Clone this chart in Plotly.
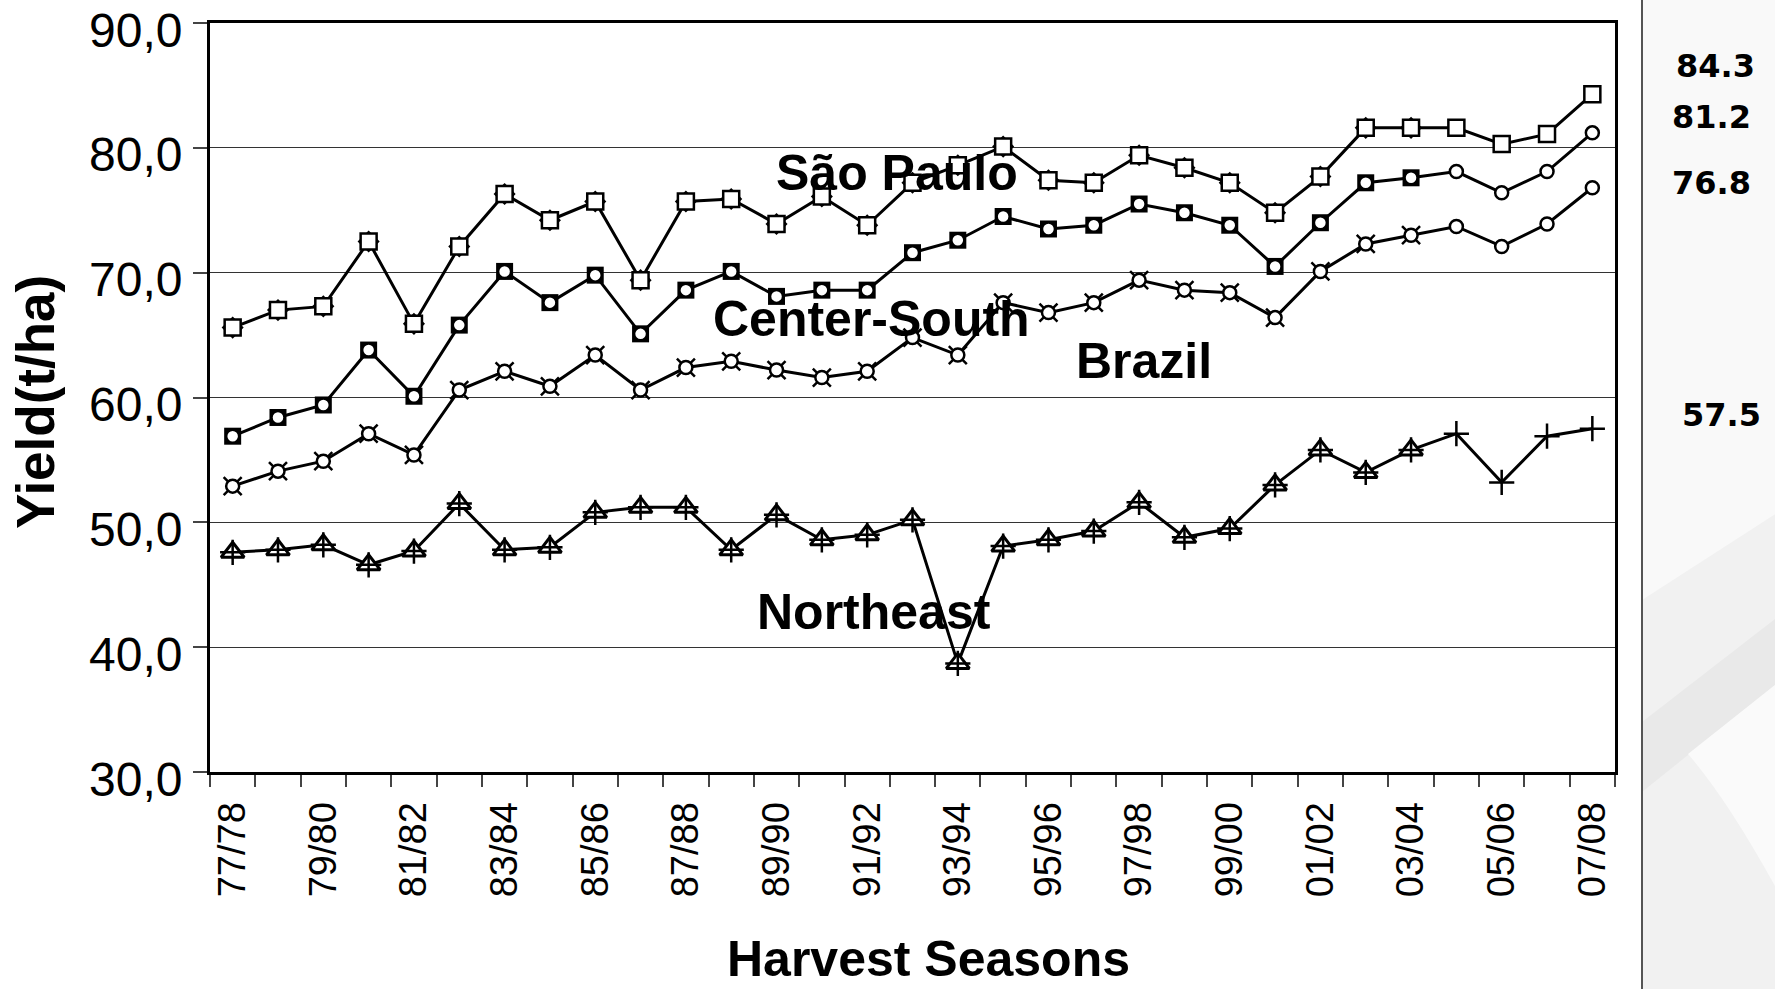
import plotly.graph_objects as go

# ---------------- data ----------------
seasons = ["77/78", "78/79", "79/80", "80/81", "81/82", "82/83", "83/84", "84/85",
           "85/86", "86/87", "87/88", "88/89", "89/90", "90/91", "91/92", "92/93",
           "93/94", "94/95", "95/96", "96/97", "97/98", "98/99", "99/00", "00/01",
           "01/02", "02/03", "03/04", "04/05", "05/06", "06/07", "07/08"]

sao_paulo = [65.6, 67.0, 67.3, 72.5, 65.9, 72.1, 76.3, 74.2, 75.7, 69.4, 75.7,
             75.9, 73.9, 76.1, 73.8, 77.2, 78.6, 80.1, 77.4, 77.2, 79.4, 78.4,
             77.2, 74.8, 77.7, 81.6, 81.6, 81.6, 80.3, 81.1, 84.3]

center_south = [56.9, 58.4, 59.4, 63.8, 60.1, 65.8, 70.1, 67.6, 69.8, 65.1, 68.6,
                70.1, 68.1, 68.6, 68.6, 71.6, 72.6, 74.5, 73.5, 73.8, 75.5, 74.8,
                73.8, 70.5, 74.0, 77.2, 77.6, 78.1, 76.4, 78.1, 81.2]

brazil = [52.9, 54.1, 54.9, 57.1, 55.4, 60.6, 62.1, 60.9, 63.4, 60.6, 62.4,
          62.9, 62.2, 61.6, 62.1, 64.8, 63.4, 67.6, 66.8, 67.6, 69.4, 68.6,
          68.4, 66.4, 70.1, 72.3, 73.0, 73.7, 72.1, 73.9, 76.8]

northeast = [47.6, 47.8, 48.2, 46.6, 47.7, 51.5, 47.8, 48.0, 50.8, 51.2, 51.2,
             47.8, 50.6, 48.6, 49.0, 50.2, 38.7, 48.1, 48.6, 49.3, 51.6, 48.8,
             49.5, 53.0, 55.8, 54.0, 55.8, 57.1, 53.2, 56.9, 57.5]

# number of seasons covered by the older (overlaid-marker) series
old_series_len = 27

region_labels = ["São Paulo", "Center-South", "Brazil", "Northeast"]
region_label_pos = [(14.65, 78.0), (14.1, 66.3), (20.1, 62.9), (14.15, 42.8)]

last_values_text = ["84.3", "81.2", "76.8", "57.5"]

y_ticks = [30, 40, 50, 60, 70, 80, 90]
y_tick_labels = ["30,0", "40,0", "50,0", "60,0", "70,0", "80,0", "90,0"]

# ---------------- layout geometry ----------------
W, H = 1775, 989
ML, MR, MT, MB = 210, 160, 23, 217
PW, PH = W - ML - MR, H - MT - MB


def px_x(px):
    return (px - ML) / PW


def px_y(py):
    return (H - MB - py) / PH


def poly(points):
    return "M " + " L ".join(f"{px_x(a)},{px_y(b)}" for a, b in points) + " Z"


xi = list(range(len(seasons)))
n_old = old_series_len

fig = go.Figure()
LW = 3
BLACK = "#000000"

# lines
for vals in [sao_paulo, center_south, brazil, northeast]:
    fig.add_trace(go.Scatter(x=xi, y=vals, mode="lines",
                             line=dict(color=BLACK, width=LW),
                             hoverinfo="skip", showlegend=False))

# Sao Paulo: open squares with small black diamonds beneath
fig.add_trace(go.Scatter(x=xi[:n_old], y=sao_paulo[:n_old], mode="markers",
                         marker=dict(symbol="diamond", size=17, color=BLACK,
                                     line=dict(width=0)),
                         showlegend=False))
fig.add_trace(go.Scatter(x=xi, y=sao_paulo, mode="markers",
                         marker=dict(symbol="square", size=16, color="white",
                                     line=dict(color=BLACK, width=2.5)),
                         name="São Paulo", showlegend=False))

# Center-South: black squares under white circles
fig.add_trace(go.Scatter(x=xi[:n_old], y=center_south[:n_old], mode="markers",
                         marker=dict(symbol="square", size=17, color=BLACK,
                                     line=dict(width=0)),
                         showlegend=False))
fig.add_trace(go.Scatter(x=xi, y=center_south, mode="markers",
                         marker=dict(symbol="circle", size=13, color="white",
                                     line=dict(color=BLACK, width=2.5)),
                         name="Center-South", showlegend=False))

# Brazil: x markers under white circles
fig.add_trace(go.Scatter(x=xi[:n_old], y=brazil[:n_old], mode="markers",
                         marker=dict(symbol="x-thin", size=18, color=BLACK,
                                     line=dict(color=BLACK, width=2.5)),
                         showlegend=False))
fig.add_trace(go.Scatter(x=xi, y=brazil, mode="markers",
                         marker=dict(symbol="circle", size=13, color="white",
                                     line=dict(color=BLACK, width=2.5)),
                         name="Brazil", showlegend=False))

# Northeast: open triangles with crosses
fig.add_trace(go.Scatter(x=xi[:n_old], y=northeast[:n_old], mode="markers",
                         marker=dict(symbol="triangle-up", size=20, color="white",
                                     line=dict(color=BLACK, width=3)),
                         showlegend=False))
fig.add_trace(go.Scatter(x=xi, y=northeast, mode="markers",
                         marker=dict(symbol="cross-thin", size=18, color=BLACK,
                                     line=dict(color=BLACK, width=2.5)),
                         name="Northeast", showlegend=False))

annotations = []
for txt, (ax, ay) in zip(region_labels, region_label_pos):
    annotations.append(dict(x=ax, y=ay, xref="x", yref="y", text=txt,
                            showarrow=False, xanchor="center", yanchor="middle",
                            font=dict(family="Liberation Sans", size=50,
                                      color=BLACK, weight="bold")))

# y tick labels (drawn slightly below their ticks, as in the original)
for val, lab in zip(y_ticks, y_tick_labels):
    annotations.append(dict(x=px_x(184), y=val, xref="paper", yref="y",
                            text=lab, showarrow=False, xanchor="right",
                            yanchor="middle", yshift=-7,
                            font=dict(family="Liberation Sans", size=48,
                                      color=BLACK)))

# last-value labels in side panel
side_pos = [(1715, 66), (1711, 117), (1711, 183), (1721, 415)]
for txt, (sx, sy) in zip(last_values_text, side_pos):
    annotations.append(dict(x=px_x(sx), y=px_y(sy), xref="paper", yref="paper",
                            text=txt, showarrow=False, xanchor="center",
                            yanchor="middle",
                            font=dict(family="DejaVu Sans", size=32,
                                      color=BLACK, weight="bold")))

# axis titles
annotations.append(dict(x=px_x(928), y=px_y(989), xref="paper", yref="paper",
                        text="Harvest Seasons", showarrow=False,
                        xanchor="center", yanchor="bottom",
                        font=dict(family="Liberation Sans", size=50,
                                  color=BLACK, weight="bold")))
annotations.append(dict(x=px_x(35), y=px_y(402), xref="paper", yref="paper",
                        text="Yield(t/ha)", showarrow=False, textangle=-90,
                        xanchor="center", yanchor="middle",
                        font=dict(family="Liberation Sans", size=53,
                                  color=BLACK, weight="bold")))

shapes = [
    # side panel background and faint swoosh
    dict(type="path", xref="paper", yref="paper",
         path=poly([(1642, -5), (1780, -5), (1780, 995), (1642, 995)]),
         fillcolor="#f9f9f9", line=dict(width=0), layer="below"),
    dict(type="path", xref="paper", yref="paper",
         path=poly([(1642, 600), (1780, 511), (1780, 995), (1642, 995)]),
         fillcolor="#f1f1f1", line=dict(width=0), layer="below"),
    dict(type="path", xref="paper", yref="paper",
         path=poly([(1642, 722), (1780, 615), (1780, 681), (1642, 792)]),
         fillcolor="#e9e9e9", line=dict(width=0), layer="below"),
    dict(type="path", xref="paper", yref="paper",
         path=(f"M {px_x(1688)},{px_y(754)} L {px_x(1780)},{px_y(681)} "
               f"L {px_x(1780)},{px_y(895)} "
               f"Q {px_x(1728)},{px_y(800)} {px_x(1688)},{px_y(754)} Z"),
         fillcolor="#fafafa", line=dict(width=0), layer="below"),
    dict(type="line", xref="paper", yref="paper",
         x0=px_x(1642), x1=px_x(1642), y0=px_y(995), y1=px_y(-5),
         line=dict(color="#555555", width=2)),
]

fig.update_layout(
    width=W, height=H,
    margin=dict(l=ML, r=MR, t=MT, b=MB, autoexpand=False),
    paper_bgcolor="white", plot_bgcolor="white",
    showlegend=False,
    annotations=annotations,
    shapes=shapes,
    xaxis=dict(
        range=[-0.5, len(seasons) - 0.5],
        tickmode="array",
        tickvals=xi[::2],
        ticktext=seasons[::2],
        tickangle=-90,
        ticks="outside", ticklen=12, tickcolor="rgba(0,0,0,0)",
        tickfont=dict(family="Liberation Sans", size=38, color=BLACK),
        minor=dict(tickmode="array",
                   tickvals=[i - 0.5 for i in range(len(seasons) + 1)],
                   ticks="outside", ticklen=12, tickcolor="#444444",
                   tickwidth=1.5, showgrid=False),
        showgrid=False, zeroline=False,
        showline=True, linecolor=BLACK, linewidth=3, mirror=True,
        ticklabeloverflow="allow", automargin=False,
    ),
    yaxis=dict(
        range=[30, 90],
        tickmode="array", tickvals=y_ticks, ticktext=y_tick_labels,
        showticklabels=False,
        ticks="outside", ticklen=14, tickcolor="#444444", tickwidth=1.5,
        showgrid=True, gridcolor="#333333", gridwidth=1.2,
        zeroline=False,
        showline=True, linecolor=BLACK, linewidth=3, mirror=True,
        automargin=False,
    ),
)

fig.write_html(
    "out.html",
    config={"displayModeBar": False},
    post_script="document.body.style.margin='0';"
                "document.body.style.overflow='hidden';",
)
